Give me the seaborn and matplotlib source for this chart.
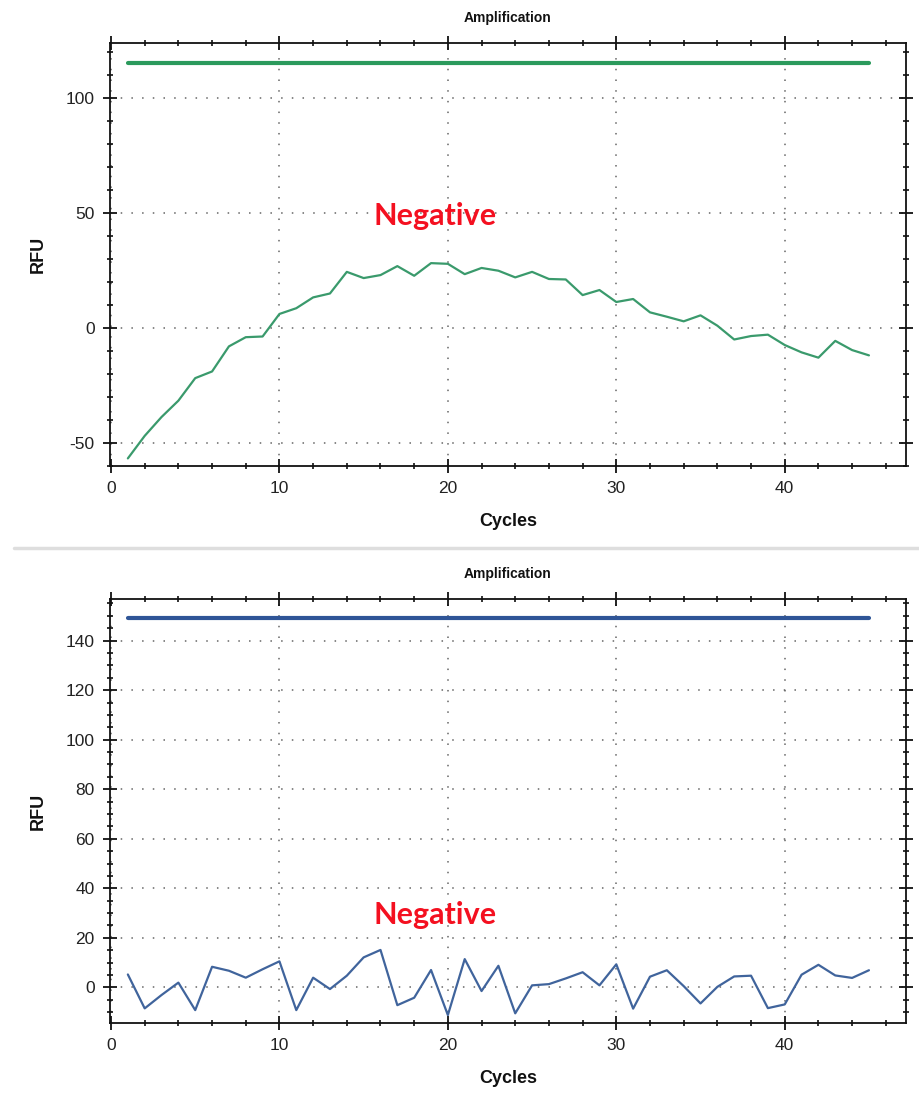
import numpy as np
import pandas as pd
import matplotlib
matplotlib.use("Agg")
import matplotlib.pyplot as plt
from matplotlib.ticker import MultipleLocator
from matplotlib.lines import Line2D
import seaborn as sns

# ---------------- data ----------------
cycles = list(range(1, 46))

rfu_green = [-56.8, -47.0, -38.8, -31.7, -21.9, -19.0, -8.1, -4.1, -3.8, 6.0,
             8.5, 13.2, 14.9, 24.3, 21.6, 22.9, 26.8, 22.6, 28.1, 27.8,
             23.3, 26.0, 24.8, 21.9, 24.3, 21.2, 21.0, 14.2, 16.4, 11.2,
             12.5, 6.7, 4.8, 2.8, 5.4, 0.9, -5.1, -3.6, -3.0, -7.5,
             -10.7, -13.0, -5.7, -9.7, -12.0]

rfu_blue = [5.2, -8.5, -3.1, 1.9, -9.2, 8.3, 6.7, 3.9, 7.3, 10.5,
            -9.2, 3.9, -0.7, 4.7, 12.1, 15.1, -7.2, -4.2, 7.0, -11.2,
            11.4, -1.5, 8.7, -10.5, 0.8, 1.3, 3.6, 6.1, 0.8, 9.3,
            -8.6, 4.3, 6.9, 0.5, -6.5, 0.2, 4.4, 4.7, -8.4, -6.9,
            5.1, 9.1, 4.8, 3.8, 6.9]

threshold_green = 115.3
threshold_blue = 149.0

panel_title = "Amplification"
x_label = "Cycles"
y_label = "RFU"
annotation = "Negative"

# ---------------- style ----------------
sns.set_theme(style="white")
plt.rcParams["font.family"] = ["Liberation Sans", "DejaVu Sans"]
plt.rcParams["axes.unicode_minus"] = False

fig = plt.figure(figsize=(9.2, 10.95), dpi=100)

W, H = 920, 1095


def make_axes(top_px, bottom_px):
    left, right = 110, 906
    return fig.add_axes([left / W, 1 - bottom_px / H, (right - left) / W, (bottom_px - top_px) / H])


ax1 = make_axes(43, 466)
ax2 = make_axes(599, 1023)

panels = [
    (ax1, rfu_green, threshold_green, "#3a9a6c", "#2b9a5c", (-60.1, 123.8), 50, 10, 48.7),
    (ax2, rfu_blue, threshold_blue, "#40649c", "#2f5597", (-14.4, 156.8), 20, 5, 29.2),
]

for ax, vals, thr, lc, tc, ylim, ymaj, ymin, ann_y in panels:
    df = pd.DataFrame({"Cycles": cycles, "RFU": vals})
    sns.lineplot(data=df, x="Cycles", y="RFU", ax=ax, color=lc, linewidth=1.6)
    dft = pd.DataFrame({"Cycles": [cycles[0], cycles[-1]], "RFU": [thr, thr]})
    sns.lineplot(data=dft, x="Cycles", y="RFU", ax=ax, color=tc, linewidth=3.0)

    ax.set_xlim(-0.06, 47.2)
    ax.set_ylim(*ylim)
    ax.xaxis.set_major_locator(MultipleLocator(10))
    ax.xaxis.set_minor_locator(MultipleLocator(2))
    ax.yaxis.set_major_locator(MultipleLocator(ymaj))
    ax.yaxis.set_minor_locator(MultipleLocator(ymin))

    ax.grid(True, which="major", color="#666666", linestyle=(0, (1, 6)), linewidth=1.1)
    ax.set_axisbelow(True)

    for s in ax.spines.values():
        s.set_visible(True)
        s.set_color("#111111")
        s.set_linewidth(1.3)

    ax.tick_params(which="major", direction="inout", length=10, width=1.3, color="#111111",
                   top=True, right=True, bottom=True, left=True, labelsize=12.5,
                   labelcolor="#222222", pad=6)
    ax.tick_params(which="minor", direction="inout", length=5, width=1.2, color="#111111",
                   top=True, right=True, bottom=True, left=True)

    ax.set_xlabel(x_label, fontsize=13, fontweight="bold", labelpad=12, color="#111111")
    ax.set_ylabel(y_label, fontsize=13, fontweight="bold", labelpad=14, color="#111111")
    ax.set_title(panel_title, fontsize=10, fontweight="bold", pad=15, color="#111111")

    ax.text(19.25, ann_y, annotation, color="#f41020", fontsize=22, fontweight="bold",
            family=["Lato", "DejaVu Sans"], ha="center", va="center")

# separator between the two panels
fig.add_artist(Line2D([0.015, 1.0], [1 - 548 / H, 1 - 548 / H], color="#dedede", linewidth=2.5))

fig.savefig("out.png", dpi=100, facecolor="white")
